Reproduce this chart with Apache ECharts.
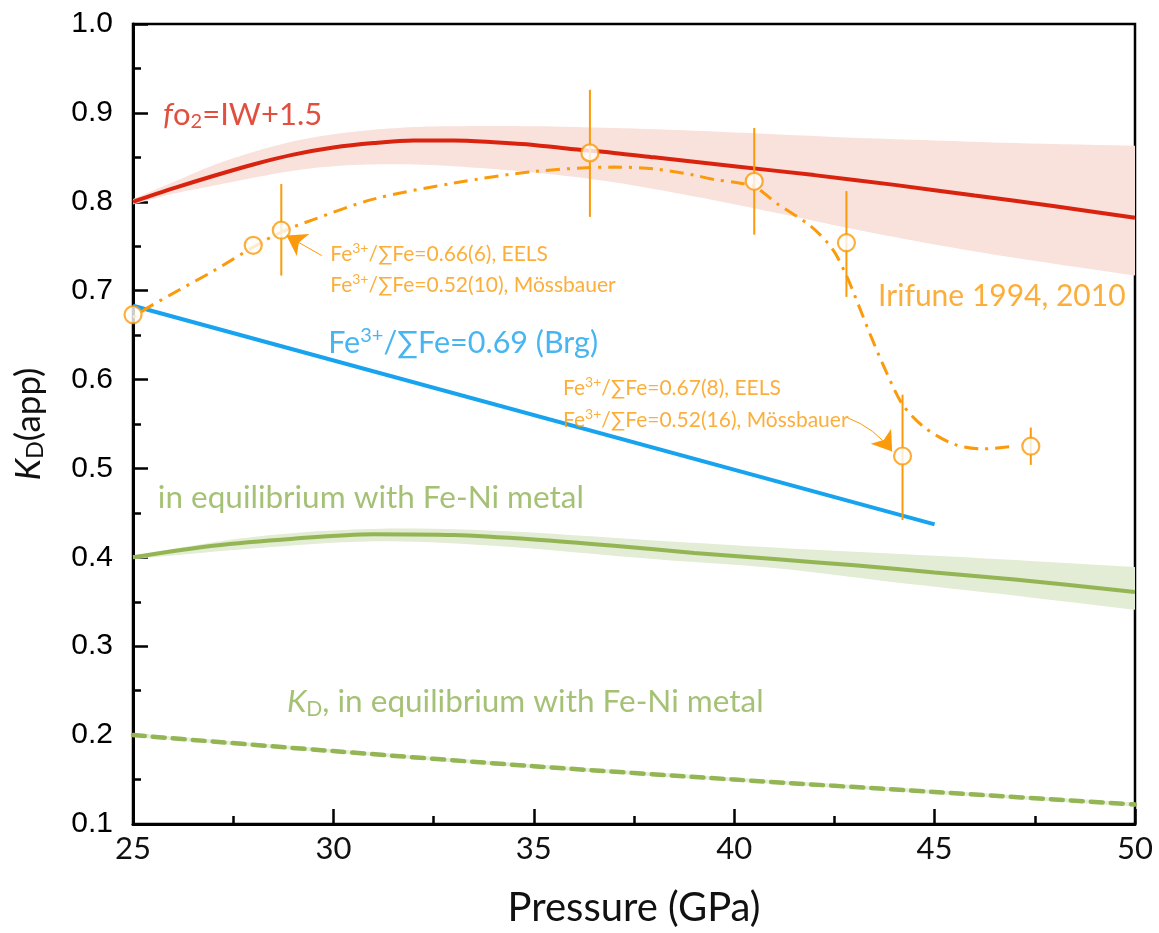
<!DOCTYPE html>
<html><head><meta charset="utf-8">
<script src="https://cdn.jsdelivr.net/npm/echarts@6/dist/echarts.min.js"></script>
<style>html,body{margin:0;padding:0;background:#fff}#c{width:1159px;height:933px}</style>
</head><body><div id="c"></div>
<script>
// ---------- data ----------
const xTickValues = [25, 30, 35, 40, 45, 50];
const yTickValues = [0.1, 0.2, 0.3, 0.4, 0.5, 0.6, 0.7, 0.8, 0.9, 1.0];

const redX = [25,26,27,28,29,30,31,32,33,34,35,36,37,38,39,40,42,44,46,48,50];
const redY = [0.800,0.815,0.829,0.842,0.853,0.861,0.866,0.869,0.869,0.867,0.864,0.859,0.855,0.850,0.845,0.840,0.830,0.819,0.807,0.795,0.782];

const redBandX = [25,26,27,28,29,30,31,32,33,35,37,39,41,43,45,47,50];
const redBandHi = [0.803,0.822,0.841,0.856,0.868,0.876,0.881,0.884,0.885,0.885,0.883,0.880,0.876,0.872,0.869,0.866,0.863];
const redBandLo = [0.797,0.809,0.818,0.827,0.835,0.840,0.842,0.842,0.840,0.833,0.822,0.806,0.788,0.769,0.752,0.737,0.717];

const greenX = [25,27,29,31,33,35,37,39,41,43,45,47,50];
const greenY = [0.400,0.413,0.421,0.426,0.425,0.420,0.413,0.405,0.398,0.391,0.383,0.375,0.361];

const greenBandX = [25,28,31,34,38,41,44,47,50];
const greenBandHi = [0.402,0.423,0.432,0.430,0.419,0.411,0.404,0.397,0.389];
const greenBandLo = [0.398,0.410,0.418,0.413,0.398,0.388,0.372,0.357,0.341];

const kdX = [25,30,35,40,45,50];
const kdY = [0.200,0.182,0.165,0.150,0.136,0.122];

const blueX = [25, 45];
const blueY = [0.683, 0.437];

const ptX = [25.0, 28.0, 28.7, 36.4, 40.5, 42.8, 44.2, 47.4];
const ptY = [0.673, 0.751, 0.768, 0.855, 0.823, 0.754, 0.514, 0.525];
const errLo = [null, null, 0.717, 0.783, 0.763, 0.693, 0.442, 0.504];
const errHi = [null, null, 0.820, 0.926, 0.883, 0.812, 0.583, 0.546];

const fitX = [24.6,25.2,26,27,28,28.7,29.5,31,33,35,37,38,39,39.5,40,40.5,41.1,41.9,42.45,42.8,43.1,43.4,43.8,44.2,44.75,45.5,46.2,46.95];
const fitY = [0.655,0.676,0.697,0.722,0.749,0.766,0.780,0.803,0.821,0.834,0.839,0.837,0.830,0.825,0.822,0.817,0.797,0.773,0.747,0.717,0.684,0.650,0.608,0.572,0.546,0.527,0.522,0.525];

// annotation texts (rich-text markup) and their anchors [x, y] (left edge, vertical centre)
const noteTexts = [
  '{i|f}o{sub|2}=IW+1.5',
  'Fe{sup|3+}/∑Fe=0.66(6), EELS',
  'Fe{sup|3+}/∑Fe=0.52(10), Mössbauer',
  'Irifune 1994, 2010',
  'Fe{sup|3+}/∑Fe=0.69 (Brg)',
  'Fe{sup|3+}/∑Fe=0.67(8), EELS',
  'Fe{sup|3+}/∑Fe=0.52(16), Mössbauer',
  'in equilibrium with Fe-Ni metal',
  '{i|K}{sub|D}, in equilibrium with Fe-Ni metal'
];
const noteX = [25.75, 29.92, 29.92, 43.59, 29.87, 35.73, 35.73, 25.62, 28.84];
const noteY = [0.898, 0.741, 0.706, 0.694, 0.641, 0.590, 0.554, 0.467, 0.237];
const noteKind = ['red','orangeS','orangeS','orange','blue','orangeS','orangeS','green','green'];

const arrowFrom = [[29.71, 0.7395], [42.83, 0.557]];
const arrowTo = [[28.83, 0.762], [43.94, 0.519]];
const arrowCurve = [0, 0.15];

// ---------- styles ----------
const RED = '#d9230f', PINK = '#f9e1dc', ORANGE = '#fb9a0a', BLUE = '#18a3ee',
      GREEN = '#93b554', GREEN_BAND = '#e3ecd4', GREEN_TXT = '#8fb152';
const FONT = 'Lato, "Liberation Sans Narrow", "Noto Sans", sans-serif';
const kindStyle = {
  red: {color: RED, size: 31},
  orange: {color: ORANGE, size: 30},
  orangeS: {color: ORANGE, size: 21},
  blue: {color: BLUE, size: 30.5},
  green: {color: GREEN_TXT, size: 31.5}
};

function zip(a, b) { return a.map((v, i) => [v, b[i]]); }

// smooth an edge (pixel space) with Catmull-Rom sampling, for drawing only
function smoothEdge(pts) {
  const out = [];
  const n = pts.length;
  for (let i = 0; i < n - 1; i++) {
    const p0 = pts[Math.max(i - 1, 0)], p1 = pts[i], p2 = pts[i + 1], p3 = pts[Math.min(i + 2, n - 1)];
    for (let k = 0; k < 8; k++) {
      const t = k / 8, t2 = t * t, t3 = t2 * t;
      const f = (a, b, c, d) => 0.5 * ((2 * b) + (-a + c) * t + (2 * a - 5 * b + 4 * c - d) * t2 + (-a + 3 * b - 3 * c + d) * t3);
      out.push([f(p0[0], p1[0], p2[0], p3[0]), f(p0[1], p1[1], p2[1], p3[1])]);
    }
  }
  out.push(pts[n - 1]);
  return out;
}

function bandSeries(xs, hi, lo, color) {
  return {
    type: 'custom', silent: true, z: 1,
    data: [[xs[0], hi[0]]],
    renderItem: function (params, api) {
      const up = smoothEdge(xs.map((x, i) => api.coord([x, hi[i]])));
      const dn = smoothEdge(xs.map((x, i) => api.coord([x, lo[i]])));
      return {type: 'polygon', shape: {points: up.concat(dn.reverse())}, style: {fill: color}};
    }
  };
}

const noteData = noteTexts.map((t, i) => {
  const s = kindStyle[noteKind[i]];
  const sub = Math.round(s.size * 0.66);
  return {
    value: [noteX[i], noteY[i]],
    label: {
      show: true, position: 'right', distance: 0, formatter: t,
      color: s.color, fontSize: s.size, fontFamily: FONT,
      rich: {
        i: {fontStyle: 'italic', fontSize: s.size, color: s.color, fontFamily: FONT},
        sub: {fontSize: sub, color: s.color, fontFamily: FONT, padding: [Math.round(s.size * 0.45), 0, 0, 0]},
        sup: {fontSize: sub, color: s.color, fontFamily: FONT, padding: [0, 0, Math.round(s.size * 0.5), 0]}
      }
    }
  };
});

const errData = ptX.map((x, i) => [x, errLo[i], errHi[i]]).filter(d => d[1] !== null);

const chart = echarts.init(document.getElementById('c'), null, {renderer: 'canvas'});
chart.setOption({
  animation: false,
  backgroundColor: '#fff',
  grid: {left: 133, right: 24, top: 24, bottom: 105, show: true, borderColor: '#000', borderWidth: 2.5, backgroundColor: 'transparent'},
  xAxis: {
    type: 'value', min: 25, max: 50, interval: 5,
    name: 'Pressure (GPa)', nameLocation: 'middle', nameGap: 64,
    nameTextStyle: {fontFamily: FONT, fontSize: 40, color: '#111'},
    axisLine: {show: true, lineStyle: {color: '#000', width: 3}},
    axisTick: {show: true, inside: true, length: 15, lineStyle: {color: '#000', width: 2.5}},
    minorTick: {show: true, splitNumber: 2, length: 8, lineStyle: {color: '#000', width: 2.5}},
    splitLine: {show: false},
    axisLabel: {fontFamily: FONT, fontSize: 31, color: '#111', margin: 9,
      formatter: v => xTickValues.includes(v) ? String(v) : ''}
  },
  yAxis: {
    type: 'value', min: 0.1, max: 1.0, interval: 0.1,
    name: '{i|K}{sub|D}(app)', nameLocation: 'middle', nameGap: 86,
    nameTextStyle: {fontFamily: FONT, fontSize: 35, color: '#111',
      rich: {i: {fontStyle: 'italic', fontSize: 35, fontFamily: FONT, color: '#111'},
             sub: {fontSize: 23, fontFamily: FONT, color: '#111', padding: [14, 0, 0, 0]}}},
    axisLine: {show: true, lineStyle: {color: '#000', width: 3}},
    axisTick: {show: true, inside: true, length: 15, lineStyle: {color: '#000', width: 2.5}},
    minorTick: {show: true, splitNumber: 2, length: 8, lineStyle: {color: '#000', width: 2.5}},
    splitLine: {show: false},
    axisLabel: {fontFamily: '"Liberation Sans", Arial, sans-serif', fontSize: 30, color: '#000', margin: 20,
      formatter: v => { const m = yTickValues.find(t => Math.abs(t - v) < 1e-6); return m === undefined ? '' : m.toFixed(1); }}
  },
  series: [
    bandSeries(redBandX, redBandHi, redBandLo, PINK),
    bandSeries(greenBandX, greenBandHi, greenBandLo, GREEN_BAND),
    {type: 'line', data: zip(kdX, kdY), symbol: 'none', smooth: 0.3, z: 2,
      lineStyle: {color: '#e6efd9', width: 4}},
    {type: 'line', data: zip(kdX, kdY), symbol: 'none', smooth: 0.3, z: 3,
      lineStyle: {color: GREEN, width: 4.5, type: [12, 8], cap: 'round'}},
    {type: 'line', data: zip(redX, redY), symbol: 'none', smooth: 0.3, z: 3,
      lineStyle: {color: RED, width: 4}},
    {type: 'line', data: zip(greenX, greenY), symbol: 'none', smooth: 0.3, z: 3,
      lineStyle: {color: GREEN, width: 4}},
    {type: 'line', data: zip(blueX, blueY), symbol: 'none', z: 3,
      lineStyle: {color: BLUE, width: 4}},
    {type: 'line', data: zip(fitX, fitY), symbol: 'none', smooth: 0.3, z: 3, clip: false,
      lineStyle: {color: ORANGE, width: 3, type: [14, 7, 3, 7]}},
    {type: 'custom', z: 4, data: errData, encode: {x: 0, y: [1, 2]},
      renderItem: function (params, api) {
        const p1 = api.coord([api.value(0), api.value(1)]);
        const p2 = api.coord([api.value(0), api.value(2)]);
        return {type: 'line', shape: {x1: p1[0], y1: p1[1], x2: p2[0], y2: p2[1]},
          style: {stroke: ORANGE, lineWidth: 2}};
      }},
    {type: 'scatter', data: zip(ptX, ptY), symbol: 'circle', symbolSize: 17, z: 5, clip: false,
      itemStyle: {color: '#fff', borderColor: ORANGE, borderWidth: 2.2}},
    {type: 'lines', coordinateSystem: 'cartesian2d', z: 6,
      data: arrowFrom.map((f, i) => ({coords: [f, arrowTo[i]], lineStyle: {curveness: arrowCurve[i]}})),
      symbol: ['none', 'arrow'], symbolSize: [0, 19],
      lineStyle: {color: ORANGE, width: 1, opacity: 1}},
    {type: 'scatter', data: noteData, symbolSize: 0, z: 7, silent: true, clip: false}
  ]
});
</script>
</body></html>
